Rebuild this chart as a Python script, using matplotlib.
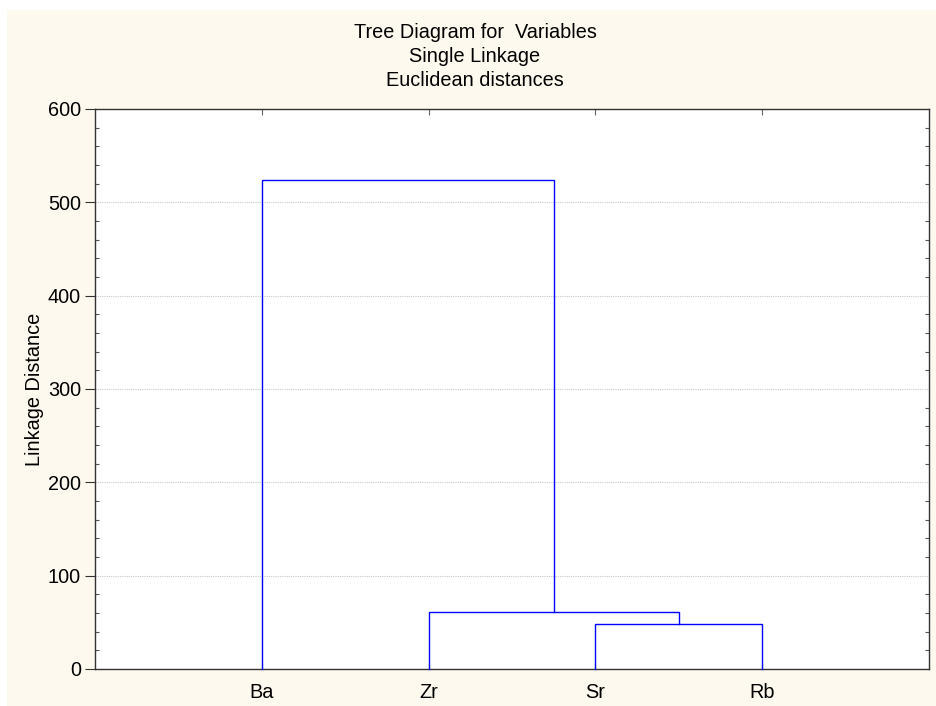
import matplotlib
matplotlib.use("Agg")
import matplotlib.pyplot as plt
from matplotlib.patches import Rectangle
from matplotlib.ticker import MultipleLocator

plt.rcParams['font.family'] = ['Liberation Sans', 'DejaVu Sans']

leaves = ['Ba', 'Zr', 'Sr', 'Rb']
# merges: (cluster a, cluster b, linkage distance); clusters >= 4 are earlier merges
merge_a = [2, 1, 0]
merge_b = [3, 4, 5]
merge_h = [48.5, 61, 524]
title_lines = ['Tree Diagram for  Variables', 'Single Linkage', 'Euclidean distances']
y_label = 'Linkage Distance'

FS = 14.3
W, H = 937, 706
fig = plt.figure(figsize=(W / 100, H / 100), dpi=100)
fig.patch.set_facecolor('white')
cream = '#fdf9ee'
fig.patches.append(Rectangle((7 / W, 0), 1 - 7 / W, 1 - 10 / H, transform=fig.transFigure,
                             facecolor=cream, edgecolor='none', zorder=-10))

ax = fig.add_axes([95 / W, 1 - 669 / H, (929 - 95) / W, (669 - 109) / H])
ax.set_facecolor('white')

# positions of clusters
pos = {i: i + 1.0 for i in range(len(leaves))}
hgt = {i: 0.0 for i in range(len(leaves))}
for k, (a, b, h) in enumerate(zip(merge_a, merge_b, merge_h)):
    xa, xb = pos[a], pos[b]
    ax.plot([xa, xa, xb, xb], [hgt[a], h, h, hgt[b]], color='#0000ff', lw=1.0,
            solid_joinstyle='miter', zorder=3, clip_on=False)
    pos[len(leaves) + k] = (xa + xb) / 2
    hgt[len(leaves) + k] = h

ax.set_xlim(0, 5)
ax.set_ylim(0, 600)
ax.set_xticks(range(1, len(leaves) + 1))
ax.set_xticklabels(leaves, fontsize=FS)
ax.yaxis.set_major_locator(MultipleLocator(100))
ax.yaxis.set_minor_locator(MultipleLocator(20))
ax.tick_params(axis='y', which='major', direction='out', length=7, width=0.8,
               labelsize=FS, pad=3, colors='#333333', labelcolor='black')
ax.tick_params(axis='y', which='minor', direction='in', length=3, width=0.8,
               right=True, colors='#555555')
ax.tick_params(axis='x', which='major', direction='in', length=4, width=0.8,
               top=True, pad=10, colors='#666666', labelcolor='black')
ax.grid(axis='y', which='major', linestyle=(0, (1, 1)), color='#c8c8c8', lw=0.8)
for s in ax.spines.values():
    s.set_color('#333333')
    s.set_linewidth(1.0)
ax.set_ylabel(y_label, fontsize=FS, labelpad=3)

ys = [33, 57, 80]
for t, yy in zip(title_lines, ys):
    fig.text(475 / W, 1 - yy / H, t, ha='center', va='center', fontsize=FS)

fig.savefig('out.png', dpi=100, facecolor=fig.get_facecolor())
